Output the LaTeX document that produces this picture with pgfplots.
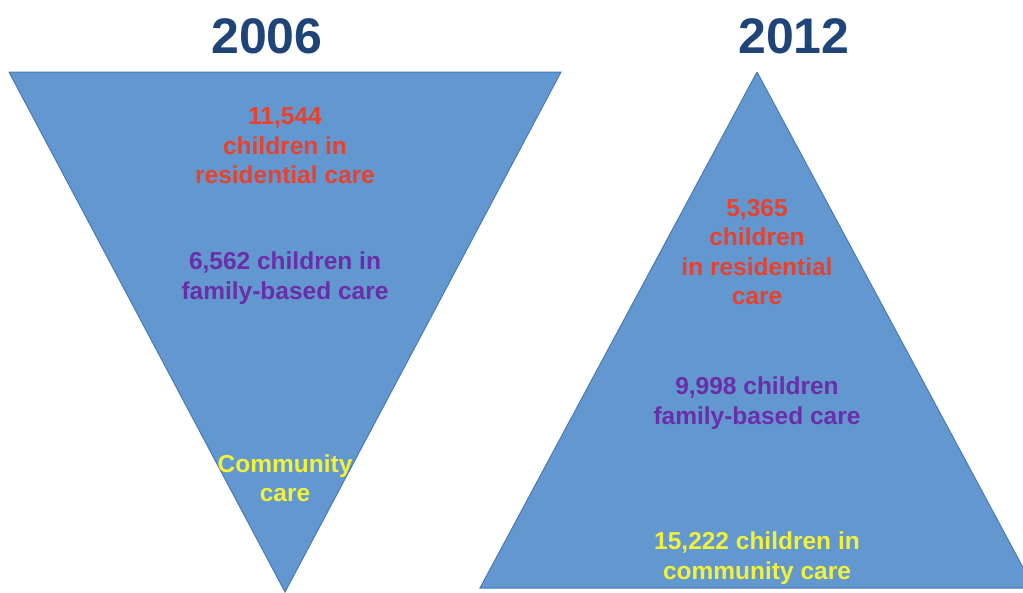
\documentclass[border=0pt]{standalone}
\usepackage{pgfplots}
\pgfplotsset{compat=1.18}
\usepackage{fontspec}
\setmainfont{Liberation Sans}
\definecolor{tri}{HTML}{6397CF}
\definecolor{triedge}{HTML}{4A7AB4}
\definecolor{navy}{HTML}{1F4478}
\definecolor{redtxt}{HTML}{E8412C}
\definecolor{purp}{HTML}{6A2FA8}
\definecolor{yel}{HTML}{F2F23A}
\begin{document}
\begin{tikzpicture}
\begin{axis}[
    width=1023pt, height=592pt, scale only axis,
    xmin=0, xmax=1023, ymin=0, ymax=592, y dir=reverse,
    hide axis,
]
\coordinate (bl) at (rel axis cs:0,0);
\coordinate (tr) at (rel axis cs:1,1);
% 2006: inverted triangle
\addplot[fill=tri, draw=triedge, line width=1pt] coordinates {(9,72) (561,72) (285,592) (9,72)};
% 2012: upright triangle (runs past the right edge)
\addplot[fill=tri, draw=triedge, line width=1pt] coordinates {(757,72) (1034,588) (480,588) (757,72)};

\tikzset{lbl/.style={font=\bfseries\fontsize{24.5}{29.5}\selectfont, align=center, anchor=center}}
\node[font=\bfseries\fontsize{50}{50}\selectfont, text=navy] at (axis cs:267,36) {2006};
\node[font=\bfseries\fontsize{50}{50}\selectfont, text=navy] at (axis cs:794,36) {2012};

\node[lbl, text=redtxt] at (axis cs:285,146) {11,544\\children in\\residential care};
\node[lbl, text=purp] at (axis cs:285,278) {6,562 children in\\family-based care};
\node[lbl, text=yel] at (axis cs:285,478) {Community\\care};

\node[lbl, text=redtxt] at (axis cs:757,252) {5,365\\children\\in residential\\care};
\node[lbl, text=purp] at (axis cs:757,403) {9,998 children\\family-based care};
\node[lbl, text=yel] at (axis cs:757,558) {15,222 children in\\community care};
\end{axis}
\pgfresetboundingbox
\path (bl) rectangle (tr);
\end{tikzpicture}
\end{document}
